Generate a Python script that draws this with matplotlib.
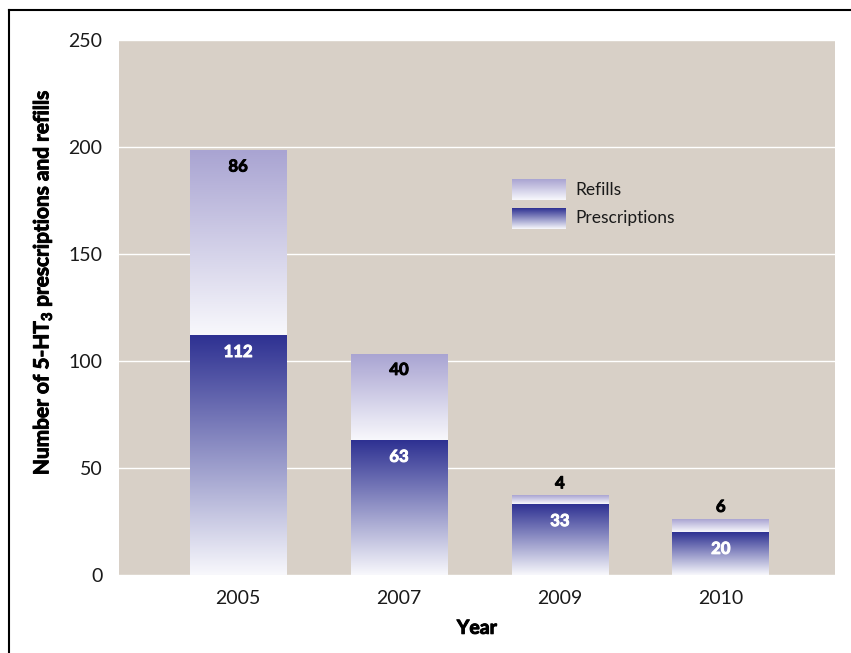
import numpy as np
import matplotlib
matplotlib.use("Agg")
import matplotlib.pyplot as plt
import matplotlib.patheffects as pe
from matplotlib.colors import to_rgb
from matplotlib.lines import Line2D

plt.rcParams['font.family'] = ['Lato', 'DejaVu Sans']
plt.rcParams['mathtext.fontset'] = 'custom'
plt.rcParams['mathtext.rm'] = 'Lato'
plt.rcParams['mathtext.bf'] = 'Lato:bold'

years = ['2005', '2007', '2009', '2010']
prescriptions = [112, 63, 33, 20]
refills = [86, 40, 4, 6]

BG = '#d8d0c7'
PRESC_TOP = '#2e3192'
REFILL_TOP = '#a9a4d2'
BOTTOM = '#f8f8fc'


def gradient(top, bottom, n=256):
    t = np.linspace(0, 1, n)[:, None, None]
    a = np.array(to_rgb(top))[None, None, :]
    b = np.array(to_rgb(bottom))[None, None, :]
    return a * (1 - t) + b * t


def grad_bar(ax, x0, x1, y0, y1, top, **kw):
    ax.imshow(gradient(top, BOTTOM), extent=(x0, x1, y0, y1), aspect='auto',
              interpolation='bilinear', zorder=2, **kw)


def heavy(color):
    # thicken bold glyphs a little
    return [pe.withStroke(linewidth=0.7, foreground=color)]


fig = plt.figure(figsize=(8.51, 6.53), dpi=100)
ax = fig.add_axes([0.1398, 0.1194, 0.8414, 0.8193])
ax.set_facecolor(BG)
ax.set_autoscale_on(False)

x = np.arange(len(years))
w = 0.6
lbl = dict(ha='center', va='center', fontsize=12, fontweight='bold', zorder=4,
           textcoords='offset points')
for i in x:
    p = prescriptions[i]
    r = refills[i]
    grad_bar(ax, i - w / 2, i + w / 2, 0, p, PRESC_TOP)
    grad_bar(ax, i - w / 2, i + w / 2, p, p + r, REFILL_TOP)
    ax.annotate(str(p), (i, p), xytext=(0, -12), color='white',
                path_effects=heavy('white'), **lbl)
    # short refill segments get their number above the bar
    dy = -11 if r >= 10 else 9
    ax.annotate(str(r), (i, p + r), xytext=(0, dy), color='black',
                path_effects=heavy('black'), **lbl)

ax.set_xlim(-0.74, 3.71)
ax.set_ylim(0, 250)
ax.set_yticks([0, 50, 100, 150, 200, 250])
ax.set_xticks(x)
ax.set_xticklabels(years)
ax.yaxis.grid(True, color='white', linewidth=1.0, zorder=1)
ax.set_axisbelow(True)
for s in ax.spines.values():
    s.set_visible(False)
ax.tick_params(length=0, labelsize=14, colors='#1a1a1a')
ax.tick_params(axis='y', pad=12)
ax.tick_params(axis='x', pad=11)

ax.set_xlabel('Year', fontsize=14, fontweight='bold', labelpad=9,
              path_effects=heavy('black'))
ax.set_ylabel(r'Number of 5-HT$_\mathbf{3}$ prescriptions and refills',
              fontsize=15, fontweight='bold', path_effects=heavy('black'))
ax.yaxis.set_label_coords(-0.090, 0.548)

# legend with gradient swatches
grad_bar(ax, 0.549, 0.624, 0.701, 0.740, REFILL_TOP, transform=ax.transAxes)
grad_bar(ax, 0.549, 0.624, 0.647, 0.686, PRESC_TOP, transform=ax.transAxes)
ax.text(0.638, 0.7205, 'Refills', transform=ax.transAxes, va='center',
        fontsize=12.5, color='#1a1a1a')
ax.text(0.638, 0.6665, 'Prescriptions', transform=ax.transAxes, va='center',
        fontsize=12.5, color='#1a1a1a')

# frame lines along top and left edge
fig.add_artist(Line2D([0.0106, 1.0], [0.9847, 0.9847], color='black', linewidth=1.5))
fig.add_artist(Line2D([0.0106, 0.0106], [0.0, 0.9847], color='black', linewidth=1.5))

fig.savefig('out.png', dpi=100)
